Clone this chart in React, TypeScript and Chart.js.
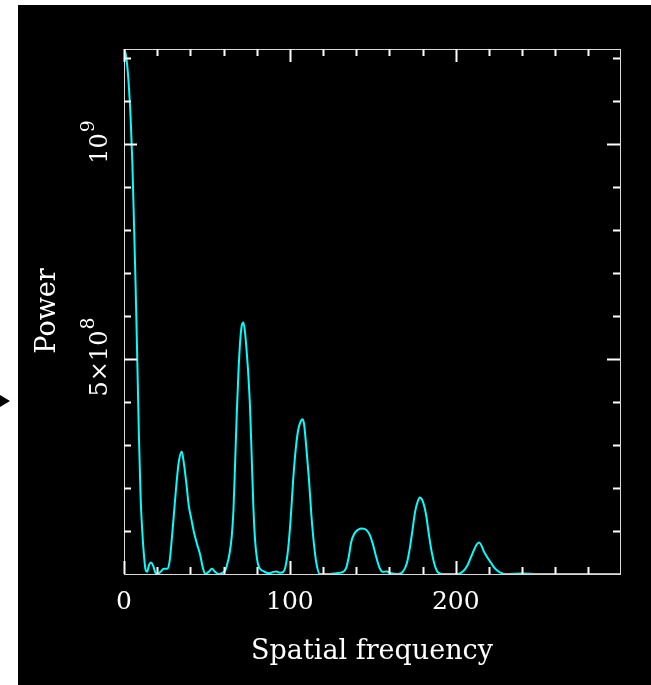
import React, { useEffect, useRef } from 'react';
import { Chart, registerables } from 'chart.js';

Chart.register(...registerables);

// Spatial frequency (x) and power in units of 1e8 (y)
const frequency = [
  0, 1, 2, 3, 4, 5, 6, 7, 8, 9, 10, 11, 12, 13, 14, 15, 16.3, 17.5, 19, 20.3,
  22, 24, 26, 27.5, 29, 30, 31.4, 33, 34.8, 36, 37.9, 39, 40.5, 42, 44, 45.9, 47.5, 49,
  51, 53, 55, 57, 59, 61, 62, 63.5, 65, 66, 67, 68, 69, 70, 71, 72, 73, 74, 75, 76, 77, 78, 79,
  80.5, 82, 84, 86, 88, 90, 92, 94, 96, 97.5, 99, 100.5, 102, 103.5, 105, 106.5, 107.5, 108.5,
  110, 111.5, 113, 114.5, 116, 118, 120, 124, 128, 132, 134, 135.5, 137, 139, 141, 143.5, 146,
  148, 150, 152, 154, 156, 158.5, 161, 165, 168, 170.5, 172.5, 174, 175.5, 177, 178.4, 180,
  182, 183.5, 185, 187, 189, 192, 201, 204, 207, 209, 211, 212.5, 214, 215.5, 217, 218.5, 220,
  221.5, 223, 225, 227, 230, 240, 250, 260, 270, 280, 290, 299,
];
const powerE8 = [
  12.2, 12.1, 11.8, 11.3, 10.6, 9.6, 8.2, 6.7, 5.0, 3.2, 1.8, 1.0, 0.45, 0.1, 0.05, 0.2, 0.27, 0.2, 0.03, 0.0,
  0.05, 0.12, 0.12, 0.3, 0.9, 1.35, 2.0, 2.6, 2.85, 2.6, 2.0, 1.6, 1.3, 1.0, 0.7, 0.45, 0.15, 0.0,
  0.05, 0.12, 0.05, 0.0, 0.02, 0.08, 0.2, 0.45, 0.9, 1.5, 2.6, 3.75, 4.7, 5.4, 5.78, 5.85, 5.6, 5.15, 4.6, 3.85, 2.7, 1.55, 0.8,
  0.28, 0.12, 0.07, 0.03, 0.02, 0.05, 0.06, 0.03, 0.05, 0.2, 0.6, 1.3, 2.2, 2.9, 3.35, 3.55, 3.6, 3.5,
  2.9, 2.2, 1.35, 0.7, 0.25, 0.0, 0.0, 0.0, 0.02, 0.05, 0.15, 0.4, 0.75, 0.95, 1.03, 1.06, 1.03,
  0.92, 0.7, 0.4, 0.15, 0.05, 0.06, 0.02, 0.0, 0.05, 0.25, 0.65, 1.05, 1.45, 1.68, 1.78, 1.7,
  1.4, 1.0, 0.62, 0.25, 0.05, 0.0, 0.0, 0.05, 0.2, 0.38, 0.56, 0.68, 0.73, 0.66, 0.52, 0.42, 0.33,
  0.25, 0.16, 0.08, 0.03, 0.0, 0.01, 0.0, 0.0, 0.0, 0.0, 0.0, 0.0,
];

const xMin = 0;
const xMax = 299;
const yMax = 12.21e8;
const xMinorTicks = [20, 40, 60, 80, 120, 140, 160, 180, 220, 240, 260, 280];
const xMajorTicks = [0, 100, 200];
const xTickLabels = ['0', '100', '200'];
const yMinorTicksE8 = [1, 2, 3, 4, 6, 7, 8, 9, 11, 12];
const yMajorTicksE8 = [5, 10];
const yTickMantissas = ['5×10', '10'];
const yTickExponents = ['8', '9'];
const xTitle = 'Spatial frequency';
const yTitle = 'Power';

const FONT = '"DejaVu Serif", serif';

function drawSupRotated(ctx: CanvasRenderingContext2D, mant: string, exp: string, baselineX: number, centerY: number) {
  ctx.save();
  ctx.translate(baselineX, centerY);
  ctx.rotate(-Math.PI / 2);
  ctx.fillStyle = '#ffffff';
  ctx.textBaseline = 'alphabetic';
  ctx.textAlign = 'left';
  ctx.font = `24px ${FONT}`;
  const w1 = ctx.measureText(mant).width;
  ctx.font = `19px ${FONT}`;
  const w2 = ctx.measureText(exp).width;
  const total = w1 + w2 + 1;
  const start = -total / 2;
  ctx.font = `24px ${FONT}`;
  ctx.fillText(mant, start, 0);
  ctx.font = `19px ${FONT}`;
  ctx.fillText(exp, start + w1 + 1, -13);
  ctx.restore();
}

const framePlugin = {
  id: 'frame',
  beforeDraw(chart: any) {
    const ctx = chart.ctx as CanvasRenderingContext2D;
    ctx.save();
    ctx.fillStyle = '#ffffff';
    ctx.fillRect(0, 0, chart.width, chart.height);
    ctx.fillStyle = '#000000';
    ctx.fillRect(18, 5, chart.width - 18, chart.height - 5);
    // small pointer at left
    ctx.beginPath();
    ctx.moveTo(0, 395);
    ctx.lineTo(10, 401);
    ctx.lineTo(0, 407);
    ctx.closePath();
    ctx.fill();
    ctx.restore();
  },
  afterDraw(chart: any) {
    const ctx = chart.ctx as CanvasRenderingContext2D;
    const a = chart.chartArea;
    const xs = chart.scales.x;
    const ys = chart.scales.y;
    ctx.save();
    // box
    ctx.strokeStyle = '#d8d8d8';
    ctx.lineWidth = 1;
    ctx.strokeRect(Math.round(a.left) + 0.5, Math.round(a.top) + 0.5, Math.round(a.right - a.left), Math.round(a.bottom - a.top));
    // ticks
    ctx.strokeStyle = '#ffffff';
    ctx.lineWidth = 2;
    const xt = (v: number, len: number) => {
      const px = Math.round(xs.getPixelForValue(v)) + 0.5;
      ctx.beginPath();
      ctx.moveTo(px, a.bottom);
      ctx.lineTo(px, a.bottom - len);
      ctx.moveTo(px, a.top);
      ctx.lineTo(px, a.top + len);
      ctx.stroke();
    };
    xMinorTicks.forEach((v) => xt(v, 7));
    xMajorTicks.forEach((v) => xt(v, 13));
    const yt = (v: number, len: number) => {
      const py = Math.round(ys.getPixelForValue(v * 1e8)) + 0.5;
      ctx.beginPath();
      ctx.moveTo(a.left, py);
      ctx.lineTo(a.left + len, py);
      ctx.moveTo(a.right, py);
      ctx.lineTo(a.right - len, py);
      ctx.stroke();
    };
    yMinorTicksE8.forEach((v) => yt(v, 7));
    yMajorTicksE8.forEach((v) => yt(v, 13));

    // x tick labels
    ctx.fillStyle = '#ffffff';
    ctx.font = `25px ${FONT}`;
    ctx.textAlign = 'center';
    ctx.textBaseline = 'alphabetic';
    xMajorTicks.forEach((v, i) => {
      ctx.fillText(xTickLabels[i], xs.getPixelForValue(v), a.bottom + 35);
    });
    // x title
    ctx.font = `27px ${FONT}`;
    ctx.fillText(xTitle, (a.left + a.right) / 2, 659);

    // y tick labels
    yMajorTicksE8.forEach((v, i) => {
      const py = ys.getPixelForValue(v * 1e8);
      drawSupRotated(ctx, yTickMantissas[i], yTickExponents[i], 107, py - 2);
    });
    // y title
    ctx.save();
    ctx.translate(55, 311);
    ctx.rotate(-Math.PI / 2);
    ctx.font = `27px ${FONT}`;
    ctx.textAlign = 'center';
    ctx.textBaseline = 'alphabetic';
    ctx.fillText(yTitle, 0, 0);
    ctx.restore();
    ctx.restore();
  },
};

export default function App() {
  const ref = useRef<HTMLCanvasElement | null>(null);
  useEffect(() => {
    if (!ref.current) return;
    const points = frequency.map((f, i) => ({ x: f, y: powerE8[i] * 1e8 }));
    const chart = new Chart(ref.current, {
      type: 'line',
      data: {
        datasets: [
          {
            data: points,
            borderColor: '#00ffff',
            borderWidth: 2,
            pointRadius: 0,
            fill: false,
            cubicInterpolationMode: 'monotone',
          },
        ],
      },
      options: {
        responsive: false,
        animation: false,
        devicePixelRatio: 1,
        layout: { padding: { left: 124, right: 31, top: 49, bottom: 111 } },
        plugins: { legend: { display: false }, tooltip: { enabled: false } },
        scales: {
          x: { type: 'linear', min: xMin, max: xMax, display: false },
          y: { type: 'linear', min: 0, max: yMax, display: false },
        },
      },
      plugins: [framePlugin],
    });
    return () => chart.destroy();
  }, []);
  return (
    <div style={{ position: 'absolute', left: 0, top: 0, width: 651, height: 685 }}>
      <canvas ref={ref} width={651} height={685} style={{ display: 'block', width: 651, height: 685 }} />
    </div>
  );
}
